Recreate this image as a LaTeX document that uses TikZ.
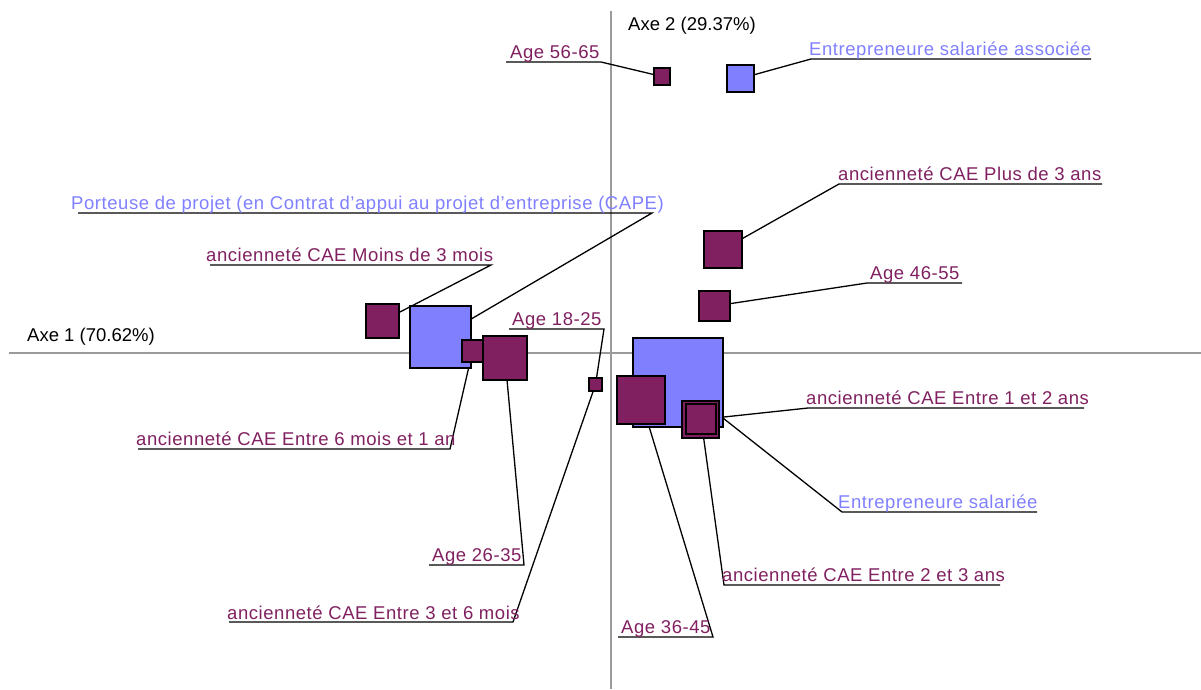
\documentclass[tikz,border=0pt]{standalone}
\usepackage{fontspec}
\setmainfont{Liberation Sans}
\newfontfamily\lblfont[LetterSpace=3]{Liberation Sans}
\pgfdeclarelayer{bg}
\pgfsetlayers{bg,main}
\definecolor{maroon}{HTML}{802060}
\definecolor{lblue}{HTML}{8080FF}
\definecolor{axisgray}{HTML}{9A9A9A}
\tikzset{
 sq/.style={draw=black, line width=1.5pt, inner sep=0pt, outer sep=0pt, rectangle},
 msq/.style={sq, fill=maroon},
 bsq/.style={sq, fill=lblue},
 lbl/.style={inner sep=0pt, anchor=base west, font=\lblfont\fontsize{18.5}{22}\selectfont},
 mlbl/.style={lbl, text=maroon},
 blbl/.style={lbl, text=lblue},
 klbl/.style={inner sep=0pt, anchor=base west, text=black, font=\fontsize{18.5}{22}\selectfont},
 leader/.style={draw=black, line width=1.3pt},
 axisline/.style={draw=axisgray, line width=1.5pt},
}
\newcommand\sqn[6]{\node[#2, minimum width={(#5-#3)*1pt}, minimum height={(#6-#4)*1pt}] (#1) at ({(#3+#5)/2},{(#4+#6)/2}) {};}
\begin{document}
\begin{tikzpicture}[x=1pt,y=-1pt]
\useasboundingbox (0,0) rectangle (1201,689);
% axes
\coordinate (vtop) at (611,11);
\coordinate (vbot) at (611,689);
\coordinate (hl) at (9,353);
\coordinate (hr) at (1201,353);
\node[klbl] (ax2) at (628,30) {Axe 2 (29.37\%)};
\node[klbl] (ax1) at (27,341) {Axe 1 (70.62\%)};
% squares
\sqn{s5665}{msq}{654}{68}{670}{85}
\sqn{sESA}{bsq}{727}{65}{754}{92}
\sqn{sP3}{msq}{704}{231}{742}{268}
\sqn{s4655}{msq}{699}{291}{730}{321}
\sqn{sM3}{msq}{366}{304}{399}{338}
\sqn{sPort}{bsq}{410}{306}{471}{368}
\sqn{s6m}{msq}{462}{340}{483}{362}
\sqn{s2635}{msq}{483}{336}{527}{380}
\sqn{s1825}{msq}{589}{378}{602}{391}
\sqn{sES}{bsq}{633}{338}{723}{427}
\sqn{s3645}{msq}{617}{376}{665}{424}
\sqn{s12}{msq}{682}{401}{719}{438}
\sqn{s23}{msq}{686}{404}{716}{434}
% labels
\node[mlbl] (t5665) at (510,58) {Age 56-65};
\node[blbl] (tESA) at (809,55) {Entrepreneure salariée associée};
\node[mlbl] (tP3) at (838,180) {ancienneté CAE Plus de 3 ans};
\node[blbl] (tPort) at (71,209) {Porteuse de projet (en Contrat d’appui au projet d’entreprise (CAPE)};
\node[mlbl] (tM3) at (206,261) {ancienneté CAE Moins de 3 mois};
\node[mlbl] (t4655) at (870,279) {Age 46-55};
\node[mlbl] (t1825) at (512,325) {Age 18-25};
\node[mlbl] (t12) at (806,404) {ancienneté CAE Entre 1 et 2 ans};
\node[mlbl] (t6m) at (136,445) {ancienneté CAE Entre 6 mois et 1 an};
\node[blbl] (tES) at (838,508) {Entrepreneure salariée};
\node[mlbl] (t2635) at (432,561) {Age 26-35};
\node[mlbl] (t23) at (722,581) {ancienneté CAE Entre 2 et 3 ans};
\node[mlbl] (t36) at (227,619) {ancienneté CAE Entre 3 et 6 mois};
\node[mlbl] (t3645) at (621,633) {Age 36-45};
% underline corners
\coordinate (c5665) at (601,62);   \coordinate (e5665) at (506,62);
\coordinate (cESA) at (811,59);    \coordinate (eESA) at (1091,59);
\coordinate (cP3) at (839,184);    \coordinate (eP3) at (1102,184);
\coordinate (cPort) at (652,213);  \coordinate (ePort) at (78,213);
\coordinate (cM3) at (491,265);    \coordinate (eM3) at (210,265);
\coordinate (c4655) at (867,283);  \coordinate (e4655) at (962,283);
\coordinate (c1825) at (604,329);  \coordinate (e1825) at (509,329);
\coordinate (c12) at (808,408);    \coordinate (e12) at (1084,408);
\coordinate (c6m) at (450,449);    \coordinate (e6m) at (138,449);
\coordinate (cES) at (842,512);    \coordinate (eES) at (1037,512);
\coordinate (c2635) at (524,565);  \coordinate (e2635) at (429,565);
\coordinate (c23) at (724,585);    \coordinate (e23) at (1000,585);
\coordinate (c36) at (513,622);    \coordinate (e36) at (229,622);
\coordinate (c3645) at (713,637);  \coordinate (e3645) at (618,637);
\begin{pgfonlayer}{bg}
\draw[axisline] (vtop) -- (vbot);
\draw[axisline] (hl) -- (hr);
\draw[leader] (s5665.center) -- (c5665) -- (e5665);
\draw[leader] (sESA.center) -- (cESA) -- (eESA);
\draw[leader] (sP3.center) -- (cP3) -- (eP3);
\draw[leader] (sPort.center) -- (cPort) -- (ePort);
\draw[leader] (sM3.center) -- (cM3) -- (eM3);
\draw[leader] (s4655.center) -- (c4655) -- (e4655);
\draw[leader] (s1825.center) -- (c1825) -- (e1825);
\draw[leader] (s12.center) -- (c12) -- (e12);
\draw[leader] (s6m.center) -- (c6m) -- (e6m);
\draw[leader] (sES.center) -- (cES) -- (eES);
\draw[leader] (s2635.center) -- (c2635) -- (e2635);
\draw[leader] (s23.center) -- (c23) -- (e23);
\draw[leader] (s1825.center) -- (c36) -- (e36);
\draw[leader] (s3645.center) -- (c3645) -- (e3645);
\end{pgfonlayer}
\end{tikzpicture}
\end{document}
